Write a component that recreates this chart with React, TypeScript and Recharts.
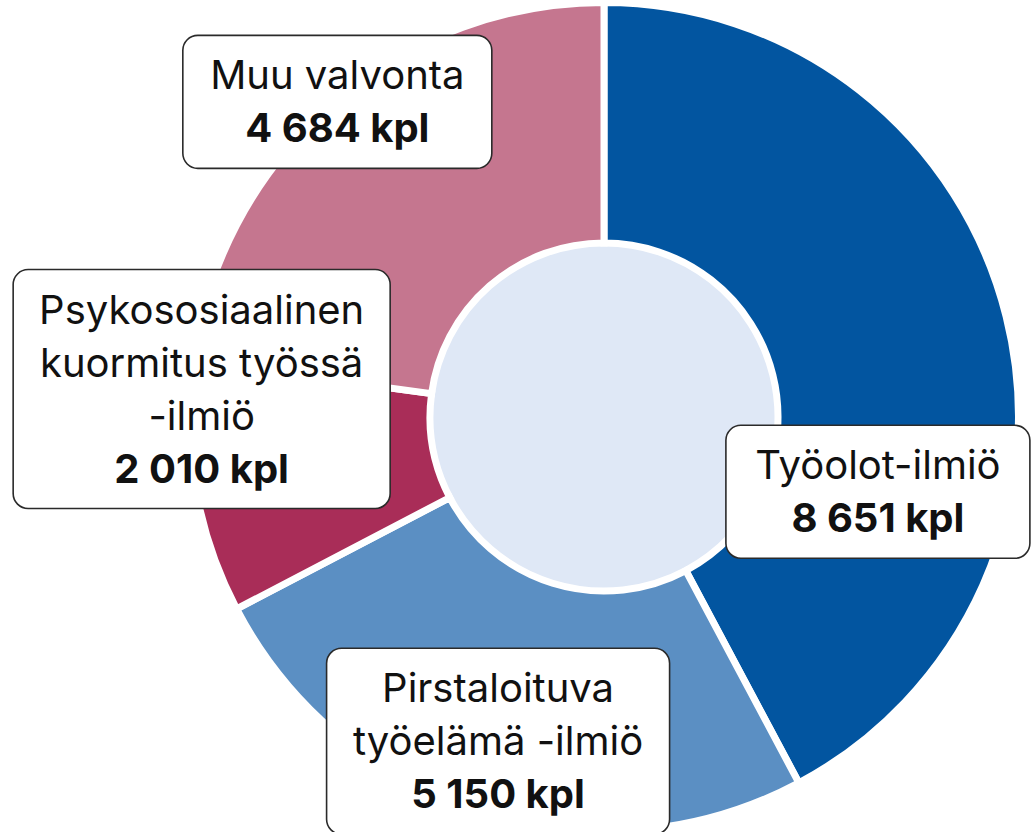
import React from "react";
import { PieChart, Pie, Cell } from "recharts";

// Tarkastukset ilmiöittäin
const categories = ["Työolot-ilmiö", "Pirstaloituva työelämä -ilmiö", "Psykososiaalinen kuormitus työssä -ilmiö", "Muu valvonta"];
const labelLines = [["Työolot-ilmiö"], ["Pirstaloituva", "työelämä -ilmiö"], ["Psykososiaalinen", "kuormitus työssä", "-ilmiö"], ["Muu valvonta"]];
const counts = [8651, 5150, 2010, 4684];
const colors = ["#0255a0", "#5b8fc3", "#a92d58", "#c5768f"];

// label box placement: radius factor and angle shift from slice middle, box width
const labelLayout = [
  { r: 0.685, shift: -29.3, w: 304 },
  { r: 0.823, shift: -0.9, w: 343 },
  { r: 0.973, shift: -13.9, w: 377 },
  { r: 0.996, shift: -0.9, w: 309 },
];

const FONT = "Inter, 'Liberation Sans', Arial, sans-serif";
const LINE = 53;

const fmt = (n: number) => String(n).replace(/\B(?=(\d{3})+(?!\d))/g, " ") + " kpl";

const data = categories.map((name, i) => ({ name, value: counts[i] }));

function renderLabel(props: any) {
  const { cx, cy, midAngle, outerRadius, index } = props;
  const lay = labelLayout[index];
  const ang = ((midAngle + lay.shift) * Math.PI) / 180;
  const r = outerRadius * lay.r;
  const x = cx + r * Math.cos(ang);
  const y = cy - r * Math.sin(ang);
  const lines = [...labelLines[index], fmt(counts[index])];
  const n = lines.length;
  const h = n * LINE + 27;
  return (
    <g key={`lbl-${index}`}>
      <rect x={x - lay.w / 2} y={y - h / 2} width={lay.w} height={h} rx={15} fill="#fff" stroke="#2a2a2a" strokeWidth={1.6} />
      {lines.map((t, i) => (
        <text
          key={i}
          x={x}
          y={y + (i - (n - 1) / 2) * LINE + 14}
          textAnchor="middle"
          fontFamily={FONT}
          fontSize={40}
          fontWeight={i === n - 1 ? 700 : 400}
          fill="#111"
        >
          {t}
        </text>
      ))}
    </g>
  );
}

export default function App() {
  return (
    <div style={{ position: "absolute", left: 0, top: 0, width: 1031, height: 832, background: "#fff" }}>
      <PieChart width={1031} height={832} margin={{ top: 0, right: 0, bottom: 0, left: 0 }}>
        <Pie
          data={[{ name: "center", value: 1 }]}
          dataKey="value"
          cx={604}
          cy={417}
          outerRadius={174}
          fill="#dfe8f6"
          stroke="none"
          isAnimationActive={false}
        />
        <Pie
          data={data}
          dataKey="value"
          cx={604}
          cy={417}
          innerRadius={174}
          outerRadius={414.5}
          startAngle={90}
          endAngle={-270}
          stroke="#fff"
          strokeWidth={7}
          label={renderLabel}
          labelLine={false}
          isAnimationActive={false}
        >
          {data.map((d, i) => (
            <Cell key={d.name} fill={colors[i]} />
          ))}
        </Pie>
      </PieChart>
    </div>
  );
}
